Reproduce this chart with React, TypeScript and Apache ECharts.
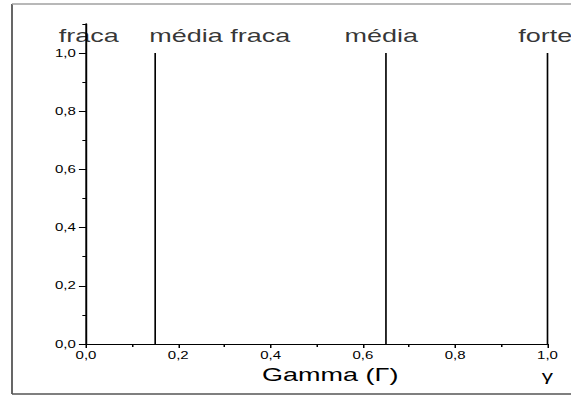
import React, { useEffect, useRef } from "react";
import * as echarts from "echarts";

// ---- data ----
const levelNames = ["fraca", "média fraca", "média", "forte"];
const levelLabelX = [0.006, 0.29, 0.64, 0.995];
const levelLabelY = 1.058;
const boundaryX = [0.15, 0.65, 1.0];
const boundaryTop = 1.0;
const yLabelValues = [0, 0.2, 0.4, 0.6, 0.8, 1.0];
const yMinorValues = [0.1, 0.3, 0.5, 0.7, 0.9, 1.1];
const xAxisTitle = "Gamma (\u0393)";
const xEndSymbol = "\u03b3";

const STRETCH = 1.5;
const W = 571;
const H = 395;
const IW = W / STRETCH;
const FONT = "'Liberation Sans', Arial, sans-serif";

const fmt = (v: number) => v.toFixed(1).replace(".", ",");

export default function App() {
  const ref = useRef<HTMLDivElement>(null);
  useEffect(() => {
    if (!ref.current) return;
    const chart = echarts.init(ref.current, undefined, { renderer: "svg" });
    const lineSeries = boundaryX.map((x) => ({
      type: "line",
      data: [
        [x, 0],
        [x, boundaryTop],
      ],
      symbol: "none",
      lineStyle: { color: "#000", width: 1.1 },
      silent: true,
    }));
    const option: any = {
      animation: false,
      grid: {
        left: 57.3,
        right: IW - 547 / STRETCH,
        top: 24,
        bottom: 51,
        outerBoundsMode: "none",
      },
      xAxis: {
        type: "value",
        min: 0,
        max: 1,
        interval: 0.2,
        name: xAxisTitle,
        nameLocation: "middle",
        nameGap: 22,
        nameTextStyle: {
          fontFamily: FONT,
          fontSize: 18,
          color: "#000",
          padding: [0, 0, 0, 18],
        },
        axisLine: { lineStyle: { color: "#000", width: 1 } },
        axisTick: { length: 4, lineStyle: { color: "#000" } },
        minorTick: { show: true, splitNumber: 2, length: 3, lineStyle: { color: "#000" } },
        splitLine: { show: false },
        axisLabel: {
          formatter: fmt,
          fontFamily: FONT,
          fontSize: 10,
          color: "#000",
          margin: 6,
        },
      },
      yAxis: [
        {
          type: "value",
          min: 0,
          max: 1.1,
          axisLine: { show: true, onZero: false, lineStyle: { color: "#000", width: 1.3 } },
          axisTick: {
            show: true,
            length: 4.7,
            customValues: yLabelValues,
            lineStyle: { color: "#000" },
          },
          splitLine: { show: false },
          axisLabel: {
            customValues: yLabelValues,
            formatter: fmt,
            fontFamily: FONT,
            fontSize: 10,
            color: "#000",
            margin: 6.8,
          },
        },
        {
          type: "value",
          min: 0,
          max: 1.1,
          position: "left",
          axisLine: { show: false },
          axisTick: {
            show: true,
            length: 2.4,
            customValues: yMinorValues,
            lineStyle: { color: "#000" },
          },
          splitLine: { show: false },
          axisLabel: { show: false },
        },
      ],
      series: [
        ...lineSeries,
        {
          type: "scatter",
          symbolSize: 0,
          silent: true,
          clip: false,
          data: levelNames.map((n, i) => ({ name: n, value: [levelLabelX[i], levelLabelY] })),
          label: {
            show: true,
            position: "inside",
            formatter: (p: any) => p.name,
            fontFamily: FONT,
            fontSize: 18,
            color: "#000",
          },
        },
      ],
      graphic: [
        {
          type: "line",
          shape: { x1: 8, y1: 4, x2: 8, y2: 394 },
          style: { stroke: "#000", lineWidth: 0.8 },
          silent: true,
        },
        {
          type: "line",
          shape: { x1: 8, y1: 4, x2: IW, y2: 4 },
          style: { stroke: "#a0a0a0", lineWidth: 1.5 },
          silent: true,
        },
        {
          type: "line",
          shape: { x1: 8, y1: 394, x2: IW, y2: 394 },
          style: { stroke: "#555", lineWidth: 1.5 },
          silent: true,
        },
      ],
    };
    chart.setOption(option);
    const px = chart.convertToPixel({ xAxisIndex: 0 }, 1.0) as number;
    chart.setOption({
      graphic: [
        ...option.graphic,
        {
          type: "text",
          x: px,
          y: 376,
          style: {
            text: xEndSymbol,
            fontFamily: FONT,
            fontSize: 15,
            fill: "#000",
            align: "center",
            verticalAlign: "middle",
          },
          silent: true,
        },
      ],
    });
    return () => chart.dispose();
  }, []);
  return (
    <div
      style={{
        position: "absolute",
        left: 0,
        top: 0,
        width: W,
        height: H,
        overflow: "hidden",
        background: "#fff",
      }}
    >
      <div
        ref={ref}
        style={{
          width: IW,
          height: H,
          transform: `scaleX(${STRETCH})`,
          transformOrigin: "0 0",
        }}
      />
    </div>
  );
}
